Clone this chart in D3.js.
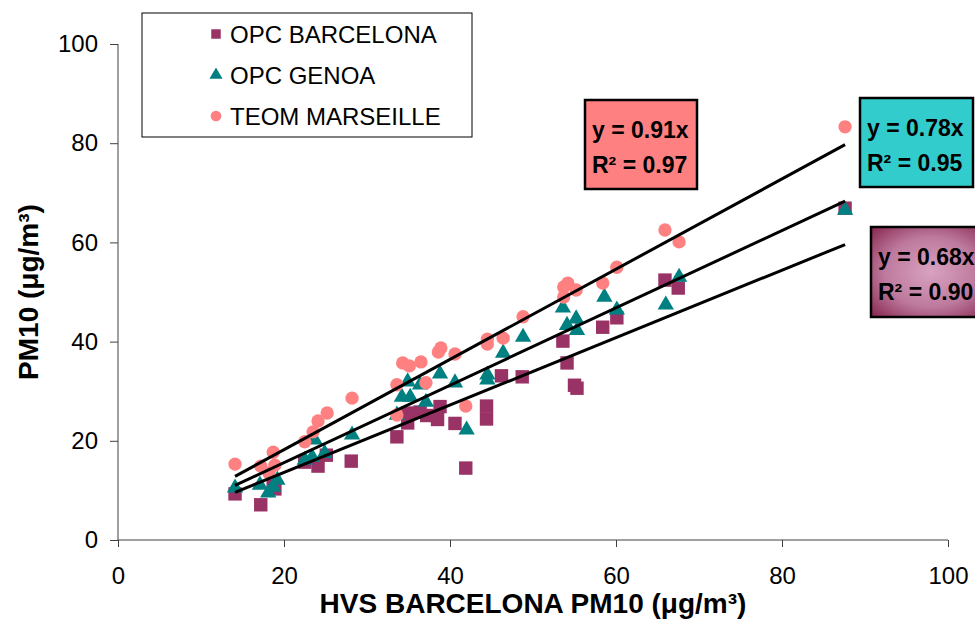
<!DOCTYPE html>
<html>
<head>
<meta charset="utf-8">
<script src="https://cdn.jsdelivr.net/npm/d3@7"></script>
<style>
  body { margin: 0; background: #fff; }
  text { font-family: "Liberation Sans", Arial, sans-serif; }
</style>
</head>
<body>
<div id="chart"></div>
<script>
// values (µg/m3)
const barcelonaX = [14.1, 17.2, 18.9, 18.7, 22.5, 24.1, 25.1, 28.1, 33.6, 34.9, 34.9, 36.4, 37.2, 38.8, 38.5, 40.6, 41.9, 44.4, 44.4, 46.2, 48.7, 53.6, 54.1, 55.0, 55.3, 58.4, 60.1, 65.9, 67.5, 87.6];
const barcelonaY = [9.3, 7.1, 10.3, 11.4, 15.7, 14.9, 17.1, 15.9, 20.8, 23.6, 25.6, 25.8, 25.1, 26.9, 24.3, 23.5, 14.5, 27.0, 24.4, 33.1, 32.9, 40.1, 35.7, 31.2, 30.6, 42.9, 44.8, 52.4, 50.8, 66.9];

const genoaX = [14.1, 17.1, 18.1, 18.7, 19.2, 22.5, 23.4, 23.7, 24.9, 28.2, 33.6, 34.2, 34.9, 35.2, 36.4, 37.1, 38.8, 40.6, 42.0, 44.5, 44.5, 46.4, 48.8, 53.6, 54.1, 55.2, 55.3, 58.6, 60.1, 66.0, 67.6, 87.6];
const genoaY = [10.5, 11.1, 9.5, 10.7, 12.1, 16.1, 16.7, 20.2, 17.5, 21.2, 25.2, 28.8, 31.9, 28.8, 31.3, 27.8, 33.5, 31.7, 22.2, 33.3, 32.3, 37.7, 40.9, 46.8, 43.3, 44.6, 42.3, 49.0, 46.4, 47.4, 53.0, 66.5];

const marseilleX = [14.1, 17.2, 18.2, 18.7, 18.9, 22.5, 23.5, 24.1, 25.2, 28.2, 33.6, 33.6, 34.3, 35.1, 36.5, 37.1, 38.6, 38.9, 40.6, 41.9, 44.5, 44.5, 46.4, 48.8, 53.7, 54.2, 55.2, 53.7, 58.4, 60.1, 65.9, 67.6, 87.6];
const marseilleY = [15.3, 14.9, 13.5, 17.7, 15.1, 19.8, 21.8, 24.0, 25.6, 28.6, 31.3, 25.2, 35.7, 35.1, 35.9, 31.7, 37.9, 38.7, 37.5, 27.0, 40.5, 39.5, 40.7, 45.0, 51.0, 51.8, 50.4, 49.0, 51.8, 55.0, 62.5, 60.1, 83.3];

const seriesNames = ["OPC BARCELONA", "OPC GENOA", "TEOM MARSEILLE"];
const seriesColors = ["#993366", "#008080", "#FF8080"];
const slopes = [0.68, 0.78, 0.91];
const r2Values = ["0.90", "0.95", "0.97"];
const xTicks = [0, 20, 40, 60, 80, 100];
const yTicks = [0, 20, 40, 60, 80, 100];

const width = 975, height = 626;
const margin = { top: 44, right: 27, bottom: 86, left: 118 };

const svg = d3.select("#chart")
  .append("svg")
  .attr("width", width)
  .attr("height", height);

const x = d3.scaleLinear().domain([0, 100]).range([margin.left, width - margin.right]);
const y = d3.scaleLinear().domain([0, 100]).range([height - margin.bottom, margin.top]);

// purple gradient for the Barcelona label box
const defs = svg.append("defs");
const grad = defs.append("radialGradient").attr("id", "plum").attr("cx", "50%").attr("cy", "50%").attr("r", "70%");
grad.append("stop").attr("offset", "0%").attr("stop-color", "#D8A2C0");
grad.append("stop").attr("offset", "55%").attr("stop-color", "#BE7A9E");
grad.append("stop").attr("offset", "100%").attr("stop-color", "#88264F");

// axes
const yAxis = d3.axisLeft(y).tickValues(yTicks).tickSize(8).tickPadding(12);
const xAxis = d3.axisBottom(x).tickValues(xTicks).tickSize(7).tickPadding(20);

const gy = svg.append("g")
  .attr("transform", `translate(${margin.left},0)`)
  .call(yAxis);
const gx = svg.append("g")
  .attr("transform", `translate(0,${height - margin.bottom})`)
  .call(xAxis);

[gx, gy].forEach(g => {
  g.select(".domain").attr("stroke", "#404040");
  g.selectAll(".tick line").attr("stroke", "#404040");
  g.selectAll(".tick text")
    .attr("fill", "#000")
    .style("font-size", "24px")
    .style("font-family", "'Liberation Sans', Arial, sans-serif");
});
gx.select(".domain").attr("d", `M${x(0)},0H${x(100)}`);
gy.select(".domain").attr("d", `M0,${y(100)}V${y(0)}`);

// axis titles
svg.append("text")
  .attr("x", (x(0) + x(100)) / 2)
  .attr("y", 613)
  .attr("text-anchor", "middle")
  .style("font-size", "28px")
  .style("font-weight", "bold")
  .text("HVS BARCELONA PM10 (\u03BCg/m\u00B3)");

svg.append("text")
  .attr("transform", `translate(38,${(y(0) + y(100)) / 2}) rotate(-90)`)
  .attr("text-anchor", "middle")
  .style("font-size", "28px")
  .style("font-weight", "bold")
  .text("PM10 (\u03BCg/m\u00B3)");

// points
const symbols = [d3.symbolSquare, d3.symbolTriangle, d3.symbolCircle];
const sizes = [180, 115, 140];
const xs = [barcelonaX, genoaX, marseilleX];
const ys = [barcelonaY, genoaY, marseilleY];

xs.forEach((xv, i) => {
  const pts = xv.map((v, j) => ({ x: v, y: ys[i][j] }));
  svg.append("g").selectAll("path")
    .data(pts)
    .enter()
    .append("path")
    .attr("d", d3.symbol().type(symbols[i]).size(sizes[i]))
    .attr("transform", d => `translate(${x(d.x)},${y(d.y)})`)
    .attr("fill", seriesColors[i]);
});

// trend lines through the origin, over the data range
const xMin = d3.min(barcelonaX), xMax = d3.max(barcelonaX);
svg.append("g").selectAll("line")
  .data(slopes)
  .enter()
  .append("line")
  .attr("x1", x(xMin))
  .attr("y1", s => y(s * xMin))
  .attr("x2", x(xMax))
  .attr("y2", s => y(s * xMax))
  .attr("stroke", "#000")
  .attr("stroke-width", 3);

// legend
const legend = svg.append("g");
legend.append("rect")
  .attr("x", 142).attr("y", 13)
  .attr("width", 330).attr("height", 124)
  .attr("fill", "#fff")
  .attr("stroke", "#000")
  .attr("stroke-width", 1);
const legendSizes = [90, 75, 90];
seriesNames.forEach((name, i) => {
  const ly = 34 + i * 41;
  legend.append("path")
    .attr("d", d3.symbol().type(symbols[i]).size(legendSizes[i]))
    .attr("transform", `translate(216,${ly})`)
    .attr("fill", seriesColors[i]);
  legend.append("text")
    .attr("x", 230).attr("y", ly)
    .attr("dy", "0.36em")
    .style("font-size", "24px")
    .text(name);
});

// equation boxes
const boxes = [
  { i: 0, x: 871, y: 227, w: 120, h: 90, fill: "url(#plum)" },
  { i: 1, x: 860, y: 98, w: 113, h: 89, fill: "#33CCCC" },
  { i: 2, x: 585, y: 100, w: 112, h: 89, fill: "#FF8080" }
];
boxes.forEach(b => {
  const g = svg.append("g");
  g.append("rect")
    .attr("x", b.x).attr("y", b.y)
    .attr("width", b.w).attr("height", b.h)
    .attr("fill", b.fill)
    .attr("stroke", "#000")
    .attr("stroke-width", 2.5);
  g.append("text")
    .attr("x", b.x + 7).attr("y", b.y + 38)
    .style("font-size", "23px").style("font-weight", "bold")
    .text(`y = ${slopes[b.i].toFixed(2)}x`);
  g.append("text")
    .attr("x", b.x + 7).attr("y", b.y + 73)
    .style("font-size", "23px").style("font-weight", "bold")
    .text(`R\u00B2 = ${r2Values[b.i]}`);
});
</script>
</body>
</html>
